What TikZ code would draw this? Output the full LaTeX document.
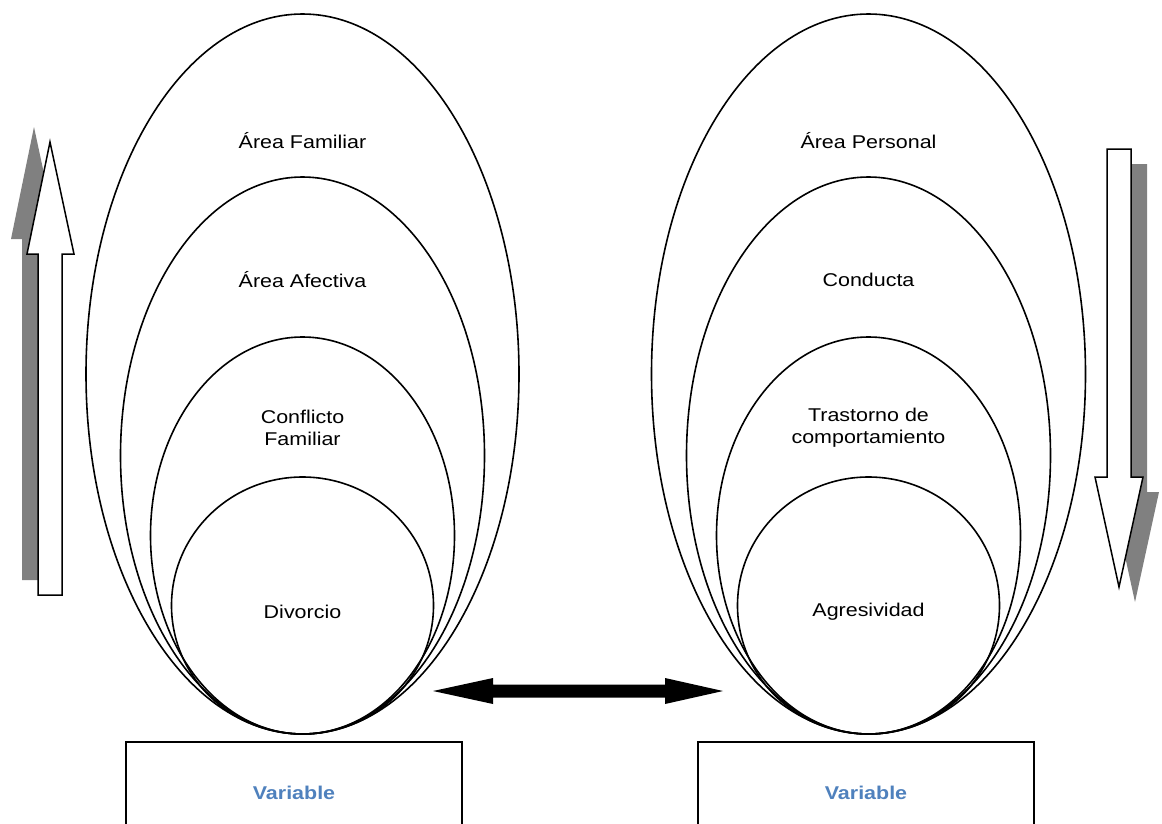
\documentclass[tikz,border=0pt]{standalone}
\usepackage{fontspec}
\setmainfont{Liberation Sans}[FakeStretch=1.16]
\usetikzlibrary{calc}
\definecolor{varblue}{HTML}{4F81BD}
\definecolor{shadowgray}{HTML}{808080}
\begin{document}
\begin{tikzpicture}[x=1pt,y=-1pt,
  ring/.style={draw=black,line width=1.6pt},
  lbl/.style={font=\fontsize{18.5}{22}\selectfont,align=center,inner sep=0pt},
  varbox/.style={draw=black,line width=2pt},
  vartext/.style={font=\fontsize{18.5}{22}\selectfont\bfseries,text=varblue,inner sep=0pt},
  bigarrow/.style={draw=black,fill=white,line width=1.5pt,line join=miter},
  arrowshadow/.style={fill=shadowgray,draw=none},
  dblarrow/.style={fill=black,draw=none}]
\useasboundingbox (0,0) rectangle (1162,823);
\clip (0,0) rectangle (1162,823);
\fill[white] (0,0) rectangle (1162,823);

% left ellipses
\draw[ring] (302.5,374) ellipse [x radius=216.5,y radius=360];
\draw[ring] (302.5,455.5) ellipse [x radius=182,y radius=278.5];
\draw[ring] (302.5,535.5) ellipse [x radius=152,y radius=198.5];
\draw[ring] (302.5,605.5) ellipse [x radius=131,y radius=128.5];
% right ellipses
\draw[ring] (868.5,374) ellipse [x radius=217,y radius=360];
\draw[ring] (868.5,455.5) ellipse [x radius=182,y radius=278.5];
\draw[ring] (868.5,535.5) ellipse [x radius=152,y radius=198.5];
\draw[ring] (868.5,605.5) ellipse [x radius=131,y radius=128.5];

% labels
\node[lbl] (lf) at (302.5,141) {Área Familiar};
\node[lbl] (la) at (302.5,280) {Área Afectiva};
\node[lbl] (lc) at (302.5,428) {Conflicto\\Familiar};
\node[lbl] (ld) at (302.5,611.5) {Divorcio};
\node[lbl] (rp) at (868.5,141) {Área Personal};
\node[lbl] (rc) at (868.5,280) {Conducta};
\node[lbl] (rt) at (868.5,428) {Trastorno de\\comportamiento};
\node[lbl] (ra) at (868.5,611.5) {Agresividad};

% variable boxes
\draw[varbox] (126,742) rectangle (462,860);
\draw[varbox] (698,742) rectangle (1034,860);
\node[vartext] (v1) at (294,793) {Variable};
\node[vartext] (v2) at (866,793) {Variable};

% up arrow with shadow
\fill[arrowshadow] (34,127) -- (58,239) -- (46,239) -- (46,580) -- (22,580) -- (22,239) -- (11,239) -- cycle;
\draw[bigarrow] (50,142) -- (74,254) -- (62,254) -- (62,595) -- (38,595) -- (38,254) -- (27,254) -- cycle;

% down arrow with shadow
\fill[arrowshadow] (1123,164) -- (1147,164) -- (1147,492) -- (1159,492) -- (1135,602) -- (1111,492) -- (1123,492) -- cycle;
\draw[bigarrow] (1107,149) -- (1131,149) -- (1131,477) -- (1143,477) -- (1119,587) -- (1095,477) -- (1107,477) -- cycle;

% double arrow
\coordinate (dl) at (433,691);
\coordinate (dr) at (723,691);
\fill[dblarrow] (dl) -- (493,678) -- (493,684.5) -- (665,684.5) -- (665,678) -- (dr) -- (665,704) -- (665,697.5) -- (493,697.5) -- (493,704) -- cycle;
\end{tikzpicture}
\end{document}
